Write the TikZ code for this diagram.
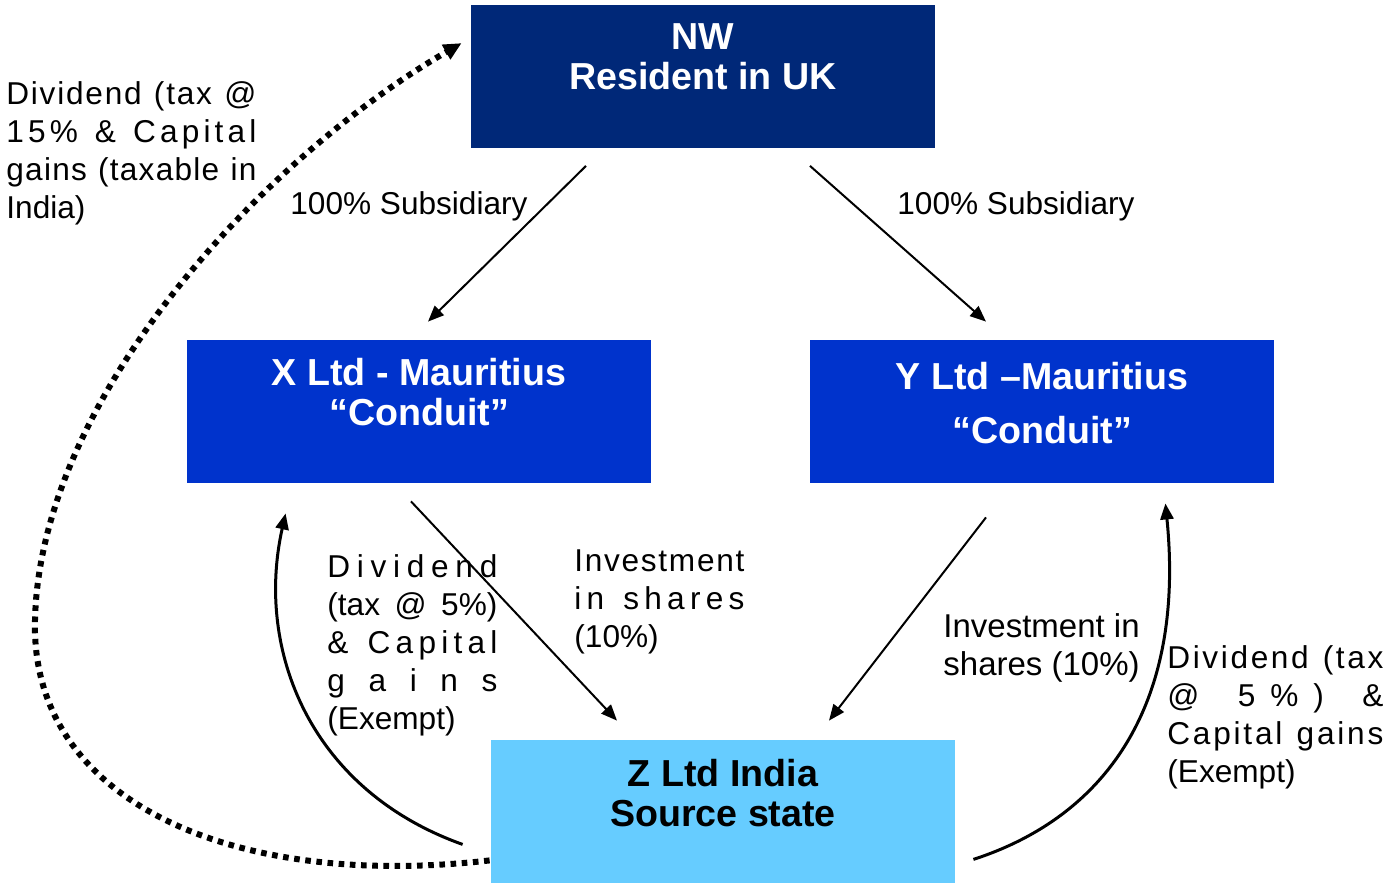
\documentclass[tikz,border=0pt]{standalone}
\usepackage{fontspec}
\setmainfont{Liberation Sans}
\usetikzlibrary{arrows.meta}
\definecolor{ukblue}{HTML}{002878}
\definecolor{mublue}{HTML}{0033CC}
\definecolor{inblue}{HTML}{66CCFF}
% stretch a line to a given width, letter by letter (~ for a space)
\newcommand\spreadline[2]{\makebox[#1][s]{\spw#2\relax}}
\def\spw#1{\ifx#1\relax\unskip\else#1\hfil\expandafter\spw\fi}
\tikzset{
  ownbox/.style={minimum width=232pt, minimum height=71.5pt, inner sep=0pt},
  boxtext/.style={align=center, inner sep=0pt, font=\fontsize{18.8}{20}\selectfont\bfseries},
  lbl/.style={anchor=north west, align=left, inner sep=0pt, font=\fontsize{15.8}{19}\selectfont},
  link/.style={-{Triangle[length=8pt,width=6.5pt]}, line width=1pt},
  flow/.style={-{Triangle[length=8pt,width=6.5pt]}, line width=1.5pt},
  treaty/.style={-{Triangle[length=9pt,width=8pt]}, line width=3pt, dash pattern=on 2.8pt off 2.8pt}
}
\begin{document}
\begin{tikzpicture}[x=0.5pt,y=-0.5pt]
  \useasboundingbox (0,0) rectangle (1386,885);
  % companies
  \node[ownbox, fill=ukblue] (nw) at (703,76) {};
  \node[ownbox, fill=mublue] (x) at (419,411.5) {};
  \node[ownbox, fill=mublue] (y) at (1042,411.5) {};
  \node[ownbox, fill=inblue] (z) at (723,811.5) {};
  \node[boxtext, white] (nwt) at ([shift={(0,-19)}]nw.center) {NW\\Resident in UK};
  \node[boxtext, white] (xt) at ([shift={(0,-19)}]x.center) {X Ltd - Mauritius\\“Conduit”};
  \node[boxtext, white] (yt) at ([shift={(0,-8.5)}]y.center) {Y Ltd –Mauritius\\[7pt]“Conduit”};
  \node[boxtext] (zt) at ([shift={(0,-18.5)}]z.center) {Z Ltd India\\Source state};
  % ownership
  \draw[link] ([shift={(-117,18)}]nw.south) -- ([shift={(9,-18)}]x.north);
  \draw[link] ([shift={(107,18)}]nw.south) -- ([shift={(-56,-18)}]y.north);
  \node[lbl, anchor=west] (subx) at (290,206) {100\% Subsidiary};
  \node[lbl, anchor=west] (suby) at (897,206) {100\% Subsidiary};
  % investment
  \draw[link] ([shift={(-8,18)}]x.south) -- ([shift={(-106,-19)}]z.north);
  \draw[link] ([shift={(-56,34)}]y.south) -- ([shift={(106,-19)}]z.north);
  \node[lbl] (invx) at (574,549) {\spreadline{85pt}{Investment}\\\spreadline{85pt}{in~shares}\\(10\%)};
  \node[lbl, font=\fontsize{16.5}{19}\selectfont] (invy) at (943,613) {Investment in\\shares (10\%)};
  % dividends back to Mauritius
  \draw[flow] ([shift={(-28,-39)}]z.south west) .. controls (310,790) and (255,650) .. ([shift={(99,30)}]x.south west);
  \draw[flow] ([shift={(18,-24)}]z.south east) .. controls (1110,815) and (1185,700) .. ([shift={(-109,20)}]y.south east);
  \node[lbl] (divx) at (327,554) {\spreadline{85pt}{Dividend}\\\makebox[85pt][s]{(tax @ 5\%)}\\\spreadline{85pt}{\&~Capital}\\\spreadline{85pt}{gains}\\(Exempt)};
  \node[lbl] (divy) at (1167,645) {\spreadline{108pt}{Dividend~(tax}\\\spreadline{108pt}{@~5\%)~\&}\\\spreadline{108pt}{Capital~gains}\\(Exempt)};
  % direct route to UK
  \draw[treaty] ([shift={(-1,-23)}]z.south west) .. controls (230,890) and (30,800) .. (35,620) .. controls (40,400) and (260,160) .. ([shift={(-9,39)}]nw.north west);
  \node[lbl] (divnw) at (6,81) {\spreadline{125pt}{Dividend~(tax~@}\\\spreadline{125pt}{15\%~\&~Capital}\\\spreadline{125pt}{gains~(taxable~in}\\India)};
\end{tikzpicture}
\end{document}
